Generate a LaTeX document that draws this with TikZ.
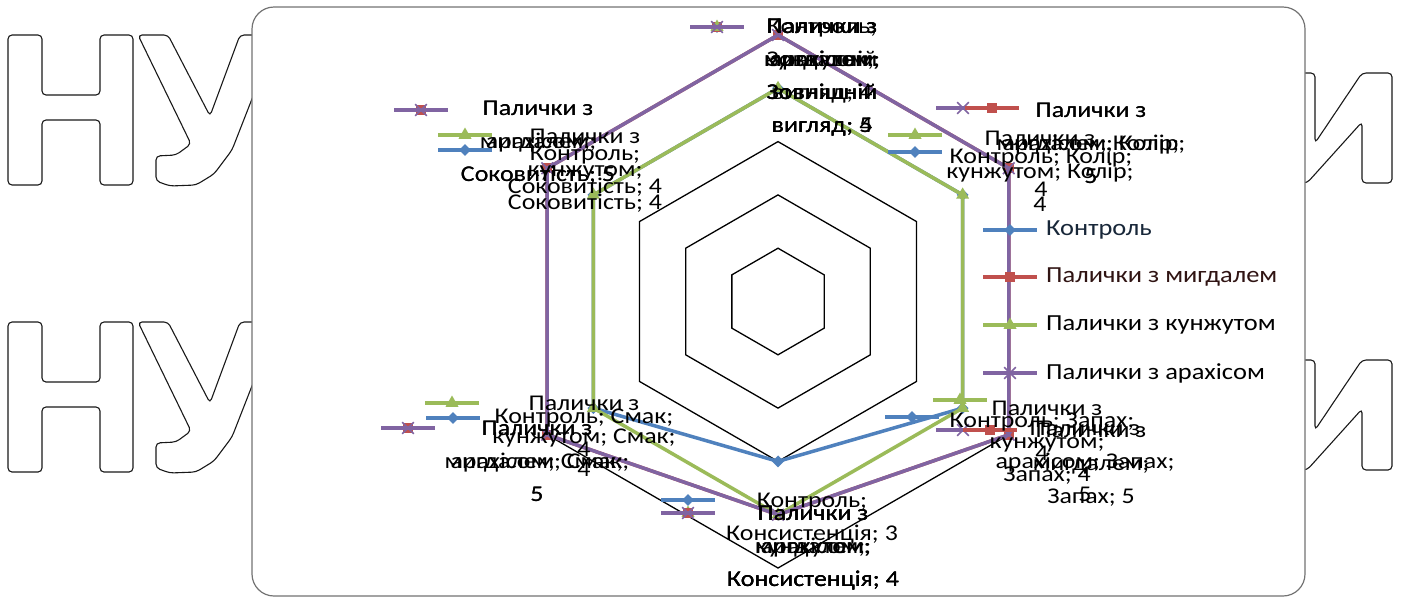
\documentclass[tikz,border=0pt]{standalone}
\usepackage{fontspec}
\setmainfont[FakeStretch=1.15]{Carlito}
\usetikzlibrary{calc,shapes.geometric,shapes.misc}

\definecolor{konc}{HTML}{4F81BD}
\definecolor{mygc}{HTML}{C0504D}
\definecolor{kunc}{HTML}{9BBB59}
\definecolor{arac}{HTML}{8064A2}

\tikzset{
  wmark/.style={draw=black!90, line width=1.1pt, fill=white, rounded corners=4pt},
  frame/.style={draw=black!55, line width=1.2pt, fill=white, rounded corners=22pt},
  gridhex/.style={draw=black, line width=1.3pt, line join=miter},
  konline/.style={draw=konc, line width=3.5pt, line join=round},
  mygline/.style={draw=mygc, line width=3.5pt, line join=round},
  kunline/.style={draw=kunc, line width=3.5pt, line join=round},
  araline/.style={draw=arac, line width=3.5pt, line join=round},
  konmark/.style={diamond, fill=konc, inner sep=0pt, minimum size=12pt},
  mygmark/.style={rectangle, fill=mygc, inner sep=0pt, minimum size=10pt},
  kunmark/.style={regular polygon, regular polygon sides=3, fill=kunc, inner sep=0pt, minimum size=15pt},
  aramark/.style={cross out, draw=arac, line width=1.6pt, inner sep=0pt, minimum size=10pt},
  lbl/.style={align=center, font=\fontsize{22.5}{33}\selectfont, inner sep=0pt, anchor=north},
  legtext/.style={anchor=west, font=\fontsize{23}{26}\selectfont, inner sep=0pt}
}

\newcommand\dlabel[4]{\node[lbl] (#1) at (#2,#3-9) {#4};}
\newcommand\lkey[4]{%
  \coordinate (#1-a) at (#3-27,#4);
  \coordinate (#1-b) at (#3+27,#4);
  \draw[#2line] (#1-a) -- (#1-b);
  \node[#2mark] (#1) at (#3,#4) {};}

\begin{document}
\begin{tikzpicture}[x=1pt,y=-1pt]
\useasboundingbox (0,0) rectangle (1405,598);

\foreach \dy in {0,287}{
  \begin{scope}[shift={(0,\dy)}]
    \draw[wmark] (8,35) -- (42,35) -- (42,95) -- (100,95) -- (100,35) -- (133,35) -- (133,185)
      -- (100,185) -- (100,120) -- (42,120) -- (42,185) -- (8,185) -- cycle;
    \draw[wmark] (138,35) -- (168,35) -- (210,116) -- (240,35) -- (277,35) -- (232,150)
      -- (214,174) -- (196,185) -- (170,186) -- (156,181) -- (156,156) -- (176,155) -- (191,144) -- cycle;
    \draw[wmark] (1283,73) -- (1315,73) -- (1315,143) -- (1362,73) -- (1392,73) -- (1392,183)
      -- (1362,183) -- (1362,122) -- (1307,183) -- (1283,183) -- cycle;
  \end{scope}
}

\draw[frame] (252,7) rectangle (1305,596);

\coordinate (c) at (778,301.5);
\foreach \k in {1,...,5}
  \draw[gridhex] ($(c)+(-90:53.3*\k)$) \foreach \i in {1,...,5}{ -- ($(c)+(-90+60*\i:53.3*\k)$) } -- cycle;

\foreach \ser/\va/\vb/\vc/\vd/\ve/\vf in {kon/4/4/4/3/4/4,myg/5/5/5/4/5/5,kun/4/4/4/4/4/4,ara/5/5/5/4/5/5}{
  \foreach \v [count=\i from 0] in {\va,\vb,\vc,\vd,\ve,\vf}
    \coordinate (\ser\i) at ($(c)+(-90+60*\i:53.3*\v)$);
  \draw[\ser line] (\ser0) -- (\ser1) -- (\ser2) -- (\ser3) -- (\ser4) -- (\ser5) -- cycle;
  \foreach \i in {0,...,5}
    \node[\ser mark] (\ser m\i) at (\ser\i) {};
}

\lkey{k-zv-kon}{kon}{717}{27}
\lkey{k-zv-myg}{myg}{717}{27}
\lkey{k-zv-kun}{kun}{717}{27}
\lkey{k-zv-ara}{ara}{717}{27}
\dlabel{l-zv-kon}{822}{28}{Контроль;\\Зовнішній\\вигляд; 4}
\dlabel{l-zv-myg}{822}{28}{Палички з\\мигдалем;\\Зовнішній\\вигляд; 5}
\dlabel{l-zv-kun}{822}{28}{Палички з\\кунжутом;\\Зовнішній\\вигляд; 4}
\dlabel{l-zv-ara}{822}{28}{Палички з\\арахісом;\\Зовнішній\\вигляд; 5}

\lkey{k-sk-myg}{myg}{421}{110}
\lkey{k-sk-ara}{ara}{421}{110}
\lkey{k-sk-kun}{kun}{465}{135}
\lkey{k-sk-kon}{kon}{465}{150}
\dlabel{l-sk-myg}{538}{110}{Палички з\\мигдалем;\\Соковитість; 5}
\dlabel{l-sk-ara}{538}{110}{Палички з\\арахісом;\\Соковитість; 5}
\dlabel{l-sk-kun}{585}{138}{Палички з\\кунжутом;\\Соковитість; 4}
\dlabel{l-sk-kon}{585}{155}{Контроль;\\Соковитість; 4}

\lkey{k-kl-ara}{ara}{963}{108}
\lkey{k-kl-myg}{myg}{992}{108}
\lkey{k-kl-kun}{kun}{915}{135}
\lkey{k-kl-kon}{kon}{915}{152}
\dlabel{l-kl-myg}{1091}{112}{Палички з\\мигдалем; Колір;\\5}
\dlabel{l-kl-ara}{1091}{112}{Палички з\\арахісом; Колір;\\5}
\dlabel{l-kl-kun}{1040}{140}{Палички з\\кунжутом; Колір;\\4}
\dlabel{l-kl-kon}{1041}{157}{Контроль; Колір;\\4}

\lkey{k-sm-kun}{kun}{452}{403}
\lkey{k-sm-kon}{kon}{453}{418}
\lkey{k-sm-myg}{myg}{408}{428}
\lkey{k-sm-ara}{ara}{408}{428}
\dlabel{l-sm-kun}{584}{405}{Палички з\\кунжутом; Смак;\\4}
\dlabel{l-sm-kon}{584}{418}{Контроль; Смак;\\4}
\dlabel{l-sm-myg}{537}{430}{Палички з\\мигдалем; Смак;\\5}
\dlabel{l-sm-ara}{537}{430}{Палички з\\арахісом; Смак;\\5}

\lkey{k-ks-kon}{kon}{688}{500}
\lkey{k-ks-kun}{kun}{688}{513}
\lkey{k-ks-myg}{myg}{688}{513}
\lkey{k-ks-ara}{ara}{688}{513}
\dlabel{l-ks-kon}{812}{502}{Контроль;\\Консистенція; 3}
\dlabel{l-ks-kun}{813}{515}{Палички з\\кунжутом;\\Консистенція; 4}
\dlabel{l-ks-myg}{813}{515}{Палички з\\мигдалем;\\Консистенція; 4}
\dlabel{l-ks-ara}{813}{515}{Палички з\\арахісом;\\Консистенція; 4}

\lkey{k-zp-kun}{kun}{960}{400}
\lkey{k-zp-kon}{kon}{912}{417}
\lkey{k-zp-ara}{ara}{963}{430}
\lkey{k-zp-myg}{myg}{990}{430}
\dlabel{l-zp-kun}{1047}{410}{Палички з\\кунжутом;\\Запах; 4}
\dlabel{l-zp-kon}{1042}{422}{Контроль; Запах;\\4}
\dlabel{l-zp-myg}{1091}{432}{Палички з\\мигдалем;\\Запах; 5}
\dlabel{l-zp-ara}{1085}{430}{Палички з\\арахісом; Запах;\\5}

\lkey{g-kon}{kon}{1010}{230}
\lkey{g-myg}{myg}{1010}{277}
\lkey{g-kun}{kun}{1010}{325}
\lkey{g-ara}{ara}{1010}{373}
\node[legtext, text=konc!30!black] (t-kon) at (1046,230) {Контроль};
\node[legtext, text=mygc!25!black] (t-myg) at (1046,277) {Палички з мигдалем};
\node[legtext] (t-kun) at (1046,325) {Палички з кунжутом};
\node[legtext] (t-ara) at (1046,373) {Палички з арахісом};
\end{tikzpicture}
\end{document}
